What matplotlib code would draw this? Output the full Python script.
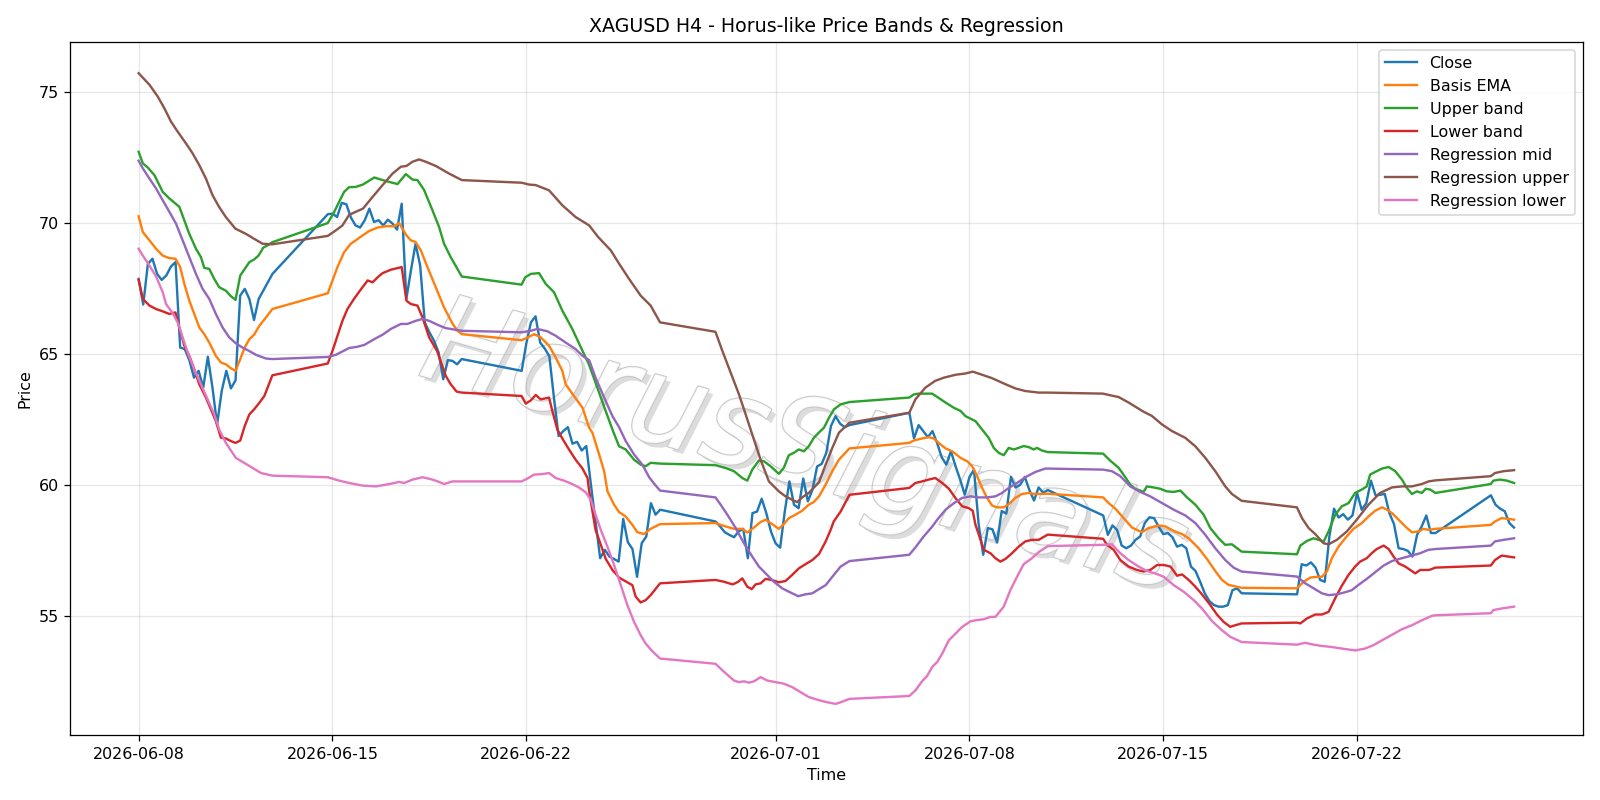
import matplotlib
matplotlib.use("Agg")
import matplotlib.pyplot as plt
import matplotlib.patheffects as pe
import numpy as np
import pandas as pd

start = pd.Timestamp("2026-06-08 00:00")

# trading sessions (H4 bars), weekends are missing
sessions = [
    ("2026-06-08 00:00", "2026-06-12 20:00"),
    ("2026-06-14 20:00", "2026-06-19 16:00"),
    ("2026-06-21 20:00", "2026-06-26 20:00"),
    ("2026-06-28 20:00", "2026-07-03 16:00"),
    ("2026-07-05 20:00", "2026-07-10 20:00"),
    ("2026-07-12 20:00", "2026-07-17 20:00"),
    ("2026-07-19 20:00", "2026-07-24 20:00"),
    ("2026-07-26 20:00", "2026-07-27 16:00"),
]

close_w0 = [67.86, 66.88, 68.43, 68.63, 68.05, 67.82, 67.99, 68.33, 68.5, 65.24,
            65.18, 64.75, 64.09, 64.35, 63.71, 64.89, 63.71, 62.3, 63.58, 64.35,
            63.68, 63.99, 67.22, 67.48, 67.09, 66.29, 67.09, 67.41, 67.73, 68.05]
close_w1 = [70.33, 70.35, 70.22, 70.76, 70.71, 70.2, 69.9, 69.82, 70.1, 70.54,
            70.03, 70.1, 69.9, 70.12, 69.97, 69.74, 70.73, 67.09, 68.18, 69.2,
            68.37, 66.2, 65.82, 65.5, 65.05, 64.03, 64.76, 64.73, 64.6, 64.8]
close_w2 = [64.35, 65.4, 66.2, 66.43, 65.43, 65.2, 64.9, 63.3, 61.86, 62.05,
            62.2, 61.57, 61.64, 61.31, 61.48, 60.0, 58.6, 57.2, 57.52, 57.26,
            57.17, 57.07, 58.7, 57.81, 57.55, 56.49, 57.77, 58.03, 59.3, 58.86, 59.05]
close_w3 = [58.6, 58.41, 58.19, 58.09, 58.0, 58.22, 58.32, 57.2, 58.92, 58.98,
            59.47, 58.92, 58.22, 57.77, 57.6, 58.98, 60.13, 59.24, 59.11, 60.24,
            59.37, 59.81, 60.7, 60.8, 61.22, 62.24, 62.62, 62.33, 62.2, 62.28]
close_w4 = [62.75, 61.77, 62.28, 62.05, 61.82, 62.05, 61.6, 61.05, 60.77, 61.28,
            60.71, 60.2, 59.62, 60.29, 60.58, 58.5, 57.33, 58.35, 58.3, 57.8,
            59.0, 58.9, 60.3, 59.9, 60.0, 60.3, 59.8, 59.4, 59.9, 59.7, 59.8]
close_w5 = [58.83, 58.09, 58.45, 58.28, 57.68, 57.58, 57.68, 57.9, 58.03, 58.54,
            58.76, 58.73, 58.41, 58.12, 58.16, 58.0, 57.64, 57.71, 57.58, 56.88,
            56.71, 56.3, 55.86, 55.56, 55.41, 55.35, 55.35, 55.41, 55.98, 56.05, 55.86]
close_w6 = [55.82, 56.97, 56.92, 57.04, 56.84, 56.37, 56.3, 58.03, 59.09, 58.75,
            58.88, 58.67, 58.83, 59.69, 59.05, 59.3, 60.16, 59.6, 59.62, 59.65,
            58.92, 58.5, 57.58, 57.55, 57.48, 57.26, 58.09, 58.41, 58.83, 58.16, 58.16]
close_w7 = [59.6, 59.24, 59.09, 58.99, 58.54, 58.37]

# smoothed lines: (days since 2026-06-08, price)
basis_ema = [(0.0, 70.25), (0.15, 69.65), (0.39, 69.33), (0.63, 69.01), (0.87, 68.75), (1.11, 68.65),
    (1.33, 68.63), (1.5, 68.31), (1.65, 67.67), (1.83, 67.03), (2.01, 66.52), (2.19, 66.01),
    (2.37, 65.75), (2.55, 65.43), (2.79, 64.92), (2.97, 64.67), (3.15, 64.6), (3.33, 64.45),
    (3.5, 64.35), (3.67, 64.8), (3.83, 65.24), (4.0, 65.56), (4.17, 65.73), (4.36, 66.07),
    (4.6, 66.39), (4.83, 66.71), (6.83, 67.31), (7.0, 67.8), (7.18, 68.31), (7.42, 68.88),
    (7.66, 69.2), (7.84, 69.33), (8.09, 69.52), (8.33, 69.69), (8.63, 69.82), (8.93, 69.87),
    (9.23, 69.87), (9.41, 69.99), (9.5, 69.82), (9.67, 69.52), (9.83, 69.33), (10.0, 69.27),
    (10.19, 68.95), (10.43, 68.31), (10.73, 67.54), (11.03, 66.77), (11.33, 66.16), (11.5, 65.9),
    (11.67, 65.75), (13.83, 65.52), (14.1, 65.65), (14.28, 65.75), (14.52, 65.63), (14.82, 65.31),
    (15.06, 64.86), (15.3, 64.35), (15.42, 63.84), (15.72, 63.39), (16.03, 62.94), (16.27, 62.18),
    (16.39, 61.98), (16.63, 61.16), (16.81, 60.52), (16.93, 59.75), (17.17, 59.24), (17.35, 58.96),
    (17.59, 58.79), (17.83, 58.47), (18.01, 58.19), (18.25, 58.12), (18.49, 58.32), (18.83, 58.5),
    (20.83, 58.54), (21.2, 58.41), (21.5, 58.32), (21.8, 58.32), (21.98, 58.18), (22.22, 58.37),
    (22.46, 58.58), (22.64, 58.67), (22.88, 58.5), (23.12, 58.32), (23.3, 58.5), (23.48, 58.73),
    (23.72, 58.86), (23.96, 59.01), (24.2, 59.24), (24.38, 59.34), (24.57, 59.56), (24.81, 60.01),
    (25.05, 60.52), (25.29, 60.96), (25.67, 61.39), (27.83, 61.6), (27.99, 61.69), (28.29, 61.77),
    (28.53, 61.82), (28.71, 61.77), (28.89, 61.6), (29.14, 61.39), (29.38, 61.28), (29.68, 61.03),
    (29.92, 60.9), (30.1, 60.71), (30.28, 60.33), (30.46, 59.88), (30.64, 59.5), (30.82, 59.21),
    (31.0, 59.14), (31.24, 59.14), (31.42, 59.26), (31.66, 59.5), (31.9, 59.65), (32.14, 59.69),
    (32.38, 59.65), (32.83, 59.66), (34.83, 59.52), (35.03, 59.3), (35.27, 59.09), (35.57, 58.73),
    (35.87, 58.37), (36.23, 58.19), (36.47, 58.35), (36.83, 58.45), (37.08, 58.41), (37.38, 58.24),
    (37.68, 58.12), (37.92, 57.96), (38.28, 57.58), (38.58, 57.17), (38.88, 56.71), (39.12, 56.37),
    (39.36, 56.18), (39.83, 56.07), (41.83, 56.05), (42.07, 56.3), (42.31, 56.46), (42.55, 56.49),
    (42.73, 56.49), (42.91, 56.69), (43.09, 57.2), (43.33, 57.64), (43.57, 57.96), (43.87, 58.32),
    (44.17, 58.54), (44.41, 58.79), (44.65, 59.01), (44.9, 59.14), (45.08, 59.05), (45.26, 58.92),
    (45.5, 58.67), (45.74, 58.41), (45.98, 58.19), (46.22, 58.22), (46.4, 58.32), (46.58, 58.28),
    (46.83, 58.32), (48.83, 58.47), (48.98, 58.6), (49.22, 58.73), (49.47, 58.7), (49.67, 58.67)]

upper_band = [(0.0, 72.71), (0.15, 72.27), (0.33, 72.11), (0.57, 71.82), (0.87, 71.18), (1.11, 70.93),
    (1.47, 70.61), (1.65, 70.1), (1.83, 69.58), (2.07, 69.01), (2.25, 68.69), (2.37, 68.28),
    (2.55, 68.24), (2.73, 67.86), (2.91, 67.54), (3.15, 67.41), (3.33, 67.2), (3.5, 67.06),
    (3.67, 67.99), (3.83, 68.24), (4.0, 68.5), (4.17, 68.6), (4.33, 68.75), (4.5, 69.05),
    (4.67, 69.15), (4.83, 69.26), (6.83, 69.99), (7.06, 70.41), (7.24, 70.8), (7.42, 71.18),
    (7.6, 71.36), (7.84, 71.37), (8.1, 71.46), (8.51, 71.73), (8.75, 71.65), (9.05, 71.56),
    (9.35, 71.48), (9.65, 71.86), (9.89, 71.65), (10.07, 71.63), (10.31, 71.25), (10.61, 70.48),
    (10.85, 69.84), (11.03, 69.2), (11.27, 68.69), (11.67, 67.95), (13.83, 67.64), (13.96, 67.92),
    (14.16, 68.05), (14.46, 68.08), (14.7, 67.67), (15.0, 67.35), (15.3, 66.65), (15.66, 65.95),
    (16.03, 65.11), (16.26, 64.6), (16.5, 63.9), (16.8, 63.01), (17.11, 62.11), (17.35, 61.47),
    (17.59, 61.35), (17.89, 60.96), (18.13, 60.77), (18.31, 60.71), (18.49, 60.84), (18.83, 60.81),
    (20.83, 60.75), (21.2, 60.64), (21.5, 60.52), (21.8, 60.26), (21.98, 60.16), (22.16, 60.58),
    (22.4, 60.93), (22.58, 60.9), (22.82, 60.71), (23.12, 60.42), (23.3, 60.65), (23.48, 61.13),
    (23.66, 61.22), (23.84, 61.35), (24.02, 61.28), (24.2, 61.47), (24.38, 61.79), (24.57, 62.0),
    (24.75, 62.18), (24.93, 62.56), (25.11, 62.88), (25.35, 63.07), (25.67, 63.16), (27.83, 63.33),
    (27.99, 63.45), (28.17, 63.48), (28.66, 63.48), (28.87, 63.33), (29.14, 63.14), (29.44, 62.94),
    (29.68, 62.82), (29.86, 62.62), (30.22, 62.43), (30.46, 62.11), (30.7, 61.79), (30.88, 61.41),
    (31.06, 61.22), (31.24, 61.13), (31.42, 61.41), (31.6, 61.35), (31.78, 61.41), (31.96, 61.48),
    (32.14, 61.44), (32.32, 61.35), (32.44, 61.41), (32.62, 61.31), (32.83, 61.25), (34.83, 61.19),
    (35.09, 60.92), (35.39, 60.65), (35.63, 60.29), (35.81, 60.0), (35.99, 59.85), (36.29, 59.73),
    (36.41, 59.94), (36.65, 59.9), (36.89, 59.85), (37.13, 59.75), (37.38, 59.73), (37.62, 59.78),
    (37.86, 59.52), (38.16, 59.24), (38.46, 58.86), (38.7, 58.35), (39.0, 57.96), (39.24, 57.71),
    (39.48, 57.73), (39.83, 57.45), (41.83, 57.35), (41.95, 57.68), (42.19, 57.86), (42.43, 57.96),
    (42.61, 57.9), (42.79, 57.83), (42.97, 58.22), (43.21, 58.86), (43.45, 59.18), (43.69, 59.3),
    (43.93, 59.69), (44.17, 59.82), (44.35, 59.94), (44.47, 60.39), (44.65, 60.49), (44.9, 60.62),
    (45.14, 60.68), (45.38, 60.52), (45.62, 60.2), (45.8, 59.88), (45.98, 59.65), (46.16, 59.75),
    (46.34, 59.69), (46.48, 59.85), (46.64, 59.82), (46.83, 59.69), (48.83, 60.03), (48.92, 60.16),
    (49.16, 60.2), (49.41, 60.16), (49.67, 60.07)]

lower_band = [(0.0, 67.82), (0.15, 67.1), (0.39, 66.84), (0.63, 66.71), (0.87, 66.62), (1.11, 66.52),
    (1.33, 66.58), (1.47, 66.01), (1.65, 65.31), (1.83, 64.92), (2.01, 64.41), (2.19, 63.84),
    (2.43, 63.33), (2.61, 62.88), (2.79, 62.43), (2.97, 61.8), (3.15, 61.77), (3.33, 61.67),
    (3.5, 61.6), (3.67, 61.69), (3.83, 62.24), (4.0, 62.69), (4.17, 62.88), (4.36, 63.13),
    (4.54, 63.39), (4.83, 64.18), (6.83, 64.63), (7.0, 65.11), (7.18, 65.69), (7.36, 66.26),
    (7.54, 66.71), (7.78, 67.1), (8.02, 67.45), (8.27, 67.8), (8.45, 67.73), (8.63, 67.92),
    (8.81, 68.08), (9.11, 68.21), (9.5, 68.31), (9.67, 67.03), (9.83, 66.9), (10.07, 66.84),
    (10.25, 66.39), (10.49, 65.63), (10.78, 65.1), (11.09, 64.16), (11.27, 63.84), (11.48, 63.56),
    (11.67, 63.52), (13.83, 63.39), (13.98, 63.1), (14.16, 63.22), (14.34, 63.43), (14.52, 63.26),
    (14.82, 63.33), (14.94, 62.82), (15.12, 62.11), (15.3, 61.77), (15.54, 61.35), (15.78, 60.96),
    (16.03, 60.62), (16.21, 60.26), (16.27, 59.75), (16.33, 59.37), (16.5, 58.28), (16.69, 57.71),
    (16.87, 57.17), (17.11, 56.75), (17.35, 56.46), (17.65, 56.28), (17.83, 56.17), (17.95, 55.73),
    (18.13, 55.51), (18.31, 55.6), (18.49, 55.79), (18.83, 56.24), (20.83, 56.37), (21.14, 56.3),
    (21.32, 56.24), (21.46, 56.2), (21.65, 56.3), (21.8, 56.43), (21.98, 56.11), (22.14, 56.02),
    (22.28, 56.2), (22.46, 56.24), (22.64, 56.41), (22.86, 56.37), (23.12, 56.28), (23.36, 56.33),
    (23.6, 56.56), (23.84, 56.81), (24.08, 56.97), (24.33, 57.13), (24.57, 57.36), (24.81, 57.84),
    (24.99, 58.28), (25.1, 58.6), (25.35, 58.98), (25.67, 59.62), (27.83, 59.88), (28.05, 60.07),
    (28.29, 60.13), (28.53, 60.2), (28.77, 60.26), (29.02, 60.07), (29.26, 59.85), (29.5, 59.49),
    (29.74, 59.18), (29.98, 59.11), (30.12, 59.01), (30.22, 58.47), (30.34, 58.1), (30.52, 57.52),
    (30.76, 57.39), (30.94, 57.2), (31.12, 57.07), (31.3, 57.17), (31.54, 57.39), (31.78, 57.64),
    (32.02, 57.84), (32.26, 57.9), (32.5, 57.9), (32.83, 58.1), (34.83, 57.94), (34.97, 57.71),
    (35.21, 57.52), (35.45, 57.13), (35.75, 56.88), (36.05, 56.75), (36.29, 56.69), (36.53, 56.75),
    (36.78, 56.94), (37.02, 56.94), (37.26, 56.88), (37.5, 56.53), (37.68, 56.58), (37.92, 56.37),
    (38.16, 56.11), (38.4, 55.82), (38.7, 55.41), (38.94, 55.05), (39.18, 54.77), (39.42, 54.58),
    (39.6, 54.64), (39.83, 54.71), (41.83, 54.74), (41.95, 54.71), (42.19, 54.9), (42.49, 55.05),
    (42.73, 55.05), (42.97, 55.15), (43.21, 55.67), (43.45, 56.15), (43.69, 56.56), (43.93, 56.88),
    (44.11, 57.07), (44.35, 57.2), (44.53, 57.39), (44.71, 57.55), (44.96, 57.68), (45.14, 57.55),
    (45.32, 57.26), (45.5, 57.0), (45.74, 56.88), (45.92, 56.75), (46.1, 56.62), (46.28, 56.75),
    (46.6, 56.75), (46.83, 56.84), (48.83, 56.92), (48.98, 57.13), (49.22, 57.3), (49.47, 57.26),
    (49.67, 57.23)]

reg_mid = [(0.0, 72.37), (0.15, 72.08), (0.39, 71.69), (0.63, 71.31), (0.87, 70.86), (1.11, 70.42),
    (1.35, 69.97), (1.59, 69.33), (1.83, 68.69), (2.07, 68.05), (2.31, 67.48), (2.55, 67.1),
    (2.79, 66.52), (3.03, 66.01), (3.27, 65.63), (3.51, 65.4), (3.75, 65.24), (3.99, 65.11),
    (4.24, 64.96), (4.6, 64.82), (4.83, 64.8), (6.83, 64.88), (7.12, 64.96), (7.36, 65.09),
    (7.6, 65.22), (7.9, 65.27), (8.15, 65.34), (8.51, 65.56), (8.81, 65.73), (9.11, 65.95),
    (9.47, 66.14), (9.71, 66.14), (10.01, 66.26), (10.25, 66.33), (10.49, 66.26), (10.79, 66.11),
    (11.09, 65.98), (11.67, 65.88), (13.83, 65.82), (14.16, 65.88), (14.4, 65.95), (14.76, 65.86),
    (15.06, 65.69), (15.42, 65.43), (15.78, 65.18), (16.03, 64.92), (16.27, 64.76), (16.5, 64.09),
    (16.81, 63.33), (17.11, 62.62), (17.35, 62.2), (17.59, 61.67), (17.89, 61.16), (18.19, 60.77),
    (18.43, 60.3), (18.61, 60.05), (18.83, 59.78), (20.83, 59.52), (21.02, 59.24), (21.26, 58.86),
    (21.56, 58.35), (21.86, 57.77), (22.16, 57.26), (22.4, 56.88), (22.64, 56.62), (22.94, 56.3),
    (23.24, 56.05), (23.54, 55.89), (23.82, 55.75), (24.08, 55.82), (24.33, 55.86), (24.57, 56.02),
    (24.81, 56.17), (25.05, 56.49), (25.35, 56.88), (25.67, 57.09), (27.83, 57.33), (28.05, 57.61),
    (28.35, 58.03), (28.66, 58.41), (28.84, 58.67), (29.14, 59.05), (29.44, 59.3), (29.74, 59.5),
    (30.04, 59.56), (30.34, 59.52), (30.64, 59.52), (30.94, 59.56), (31.18, 59.69), (31.42, 59.88),
    (31.72, 60.07), (32.02, 60.29), (32.38, 60.49), (32.74, 60.62), (32.83, 60.62), (34.83, 60.58),
    (35.15, 60.52), (35.45, 60.33), (35.81, 59.94), (36.17, 59.73), (36.53, 59.56), (36.96, 59.3),
    (37.38, 59.05), (37.8, 58.83), (38.16, 58.54), (38.52, 58.09), (38.88, 57.58), (39.24, 57.13),
    (39.54, 56.84), (39.83, 56.69), (41.83, 56.5), (42.13, 56.24), (42.43, 56.05), (42.73, 55.86),
    (42.97, 55.79), (43.27, 55.82), (43.57, 55.9), (43.81, 55.98), (44.05, 56.18), (44.35, 56.41),
    (44.65, 56.66), (44.96, 56.92), (45.26, 57.09), (45.62, 57.2), (45.98, 57.3), (46.28, 57.39),
    (46.58, 57.52), (46.83, 57.55), (48.83, 57.68), (48.98, 57.84), (49.29, 57.9), (49.67, 57.96)]

reg_upper = [(0.0, 75.71), (0.39, 75.27), (0.69, 74.82), (0.93, 74.37), (1.17, 73.86), (1.41, 73.48),
    (1.71, 73.03), (1.95, 72.65), (2.19, 72.2), (2.43, 71.69), (2.67, 71.05), (2.91, 70.6),
    (3.15, 70.22), (3.49, 69.78), (3.87, 69.58), (4.17, 69.39), (4.48, 69.2), (4.83, 69.18),
    (6.83, 69.5), (7.12, 69.71), (7.36, 69.9), (7.6, 70.3), (7.84, 70.42), (8.1, 70.54),
    (8.45, 70.99), (8.81, 71.44), (9.17, 71.88), (9.47, 72.14), (9.67, 72.17), (9.89, 72.33),
    (10.13, 72.42), (10.37, 72.33), (10.73, 72.17), (11.21, 71.88), (11.67, 71.63), (13.83, 71.53),
    (14.1, 71.46), (14.34, 71.44), (14.82, 71.24), (15.3, 70.67), (15.78, 70.22), (16.27, 69.9),
    (16.6, 69.45), (17.05, 68.95), (17.35, 68.44), (17.71, 67.86), (18.13, 67.22), (18.49, 66.84),
    (18.83, 66.2), (20.83, 65.84), (21.08, 65.11), (21.38, 64.28), (21.68, 63.45), (21.92, 62.69),
    (22.16, 61.92), (22.46, 60.96), (22.76, 60.13), (23.12, 59.75), (23.36, 59.56), (23.6, 59.43),
    (23.78, 59.34), (23.96, 59.52), (24.2, 59.69), (24.57, 60.1), (24.81, 60.77), (25.05, 61.41),
    (25.29, 61.99), (25.67, 62.37), (27.83, 62.75), (28.05, 63.26), (28.41, 63.71), (28.77, 63.97),
    (29.08, 64.09), (29.5, 64.2), (29.86, 64.25), (30.12, 64.32), (30.46, 64.2), (30.82, 64.07),
    (31.3, 63.84), (31.66, 63.68), (32.02, 63.58), (32.5, 63.52), (32.83, 63.52), (34.83, 63.48),
    (35.03, 63.43), (35.39, 63.35), (35.75, 63.14), (36.29, 62.79), (36.59, 62.63), (36.96, 62.3),
    (37.32, 62.05), (37.8, 61.79), (38.16, 61.47), (38.52, 61.03), (38.88, 60.52), (39.24, 59.94),
    (39.48, 59.65), (39.83, 59.39), (41.83, 59.14), (42.01, 58.73), (42.25, 58.35), (42.49, 58.12),
    (42.79, 57.77), (42.97, 57.73), (43.27, 57.9), (43.63, 58.22), (43.99, 58.67), (44.41, 59.24),
    (44.83, 59.69), (45.26, 59.9), (45.62, 59.94), (45.98, 59.94), (46.34, 60.03), (46.58, 60.13),
    (46.83, 60.17), (48.83, 60.33), (48.98, 60.45), (49.29, 60.52), (49.67, 60.56)]

reg_lower = [(0.0, 69.01), (0.15, 68.75), (0.39, 68.37), (0.63, 67.95), (0.87, 67.35), (0.99, 66.9),
    (1.23, 66.55), (1.41, 66.2), (1.59, 65.63), (1.77, 65.05), (2.01, 64.41), (2.25, 63.84),
    (2.49, 63.26), (2.73, 62.69), (2.91, 62.11), (3.15, 61.6), (3.51, 61.03), (3.81, 60.84),
    (4.11, 60.65), (4.42, 60.45), (4.83, 60.35), (6.83, 60.29), (7.24, 60.16), (7.6, 60.07),
    (8.09, 59.97), (8.57, 59.94), (9.05, 60.03), (9.41, 60.11), (9.59, 60.07), (9.89, 60.2),
    (10.25, 60.29), (10.61, 60.2), (10.85, 60.11), (11.03, 60.03), (11.33, 60.13), (11.67, 60.13),
    (13.83, 60.13), (14.04, 60.24), (14.28, 60.39), (14.58, 60.41), (14.82, 60.45), (15.06, 60.26),
    (15.36, 60.16), (15.66, 60.03), (15.9, 59.9), (16.14, 59.72), (16.33, 59.43), (16.5, 58.86),
    (16.69, 58.28), (16.93, 57.64), (17.17, 56.94), (17.41, 56.17), (17.65, 55.41), (17.89, 54.77),
    (18.13, 54.26), (18.31, 53.94), (18.55, 53.65), (18.83, 53.37), (20.83, 53.17), (21.02, 52.98),
    (21.26, 52.75), (21.5, 52.53), (21.68, 52.47), (21.86, 52.5), (22.04, 52.45), (22.22, 52.5),
    (22.46, 52.66), (22.7, 52.53), (23.0, 52.47), (23.3, 52.41), (23.6, 52.28), (23.9, 52.09),
    (24.2, 51.9), (24.57, 51.78), (24.87, 51.7), (25.17, 51.64), (25.35, 51.7), (25.67, 51.83),
    (27.83, 51.94), (28.05, 52.15), (28.29, 52.5), (28.47, 52.7), (28.66, 53.05), (28.84, 53.24),
    (29.02, 53.56), (29.26, 54.07), (29.5, 54.32), (29.74, 54.58), (30.04, 54.79), (30.28, 54.84),
    (30.52, 54.87), (30.76, 54.96), (30.94, 54.96), (31.24, 55.35), (31.48, 55.98), (31.72, 56.49),
    (31.96, 56.97), (32.26, 57.2), (32.5, 57.43), (32.83, 57.66), (34.83, 57.71), (35.15, 57.73),
    (35.45, 57.39), (35.75, 57.13), (36.11, 56.88), (36.41, 56.71), (36.71, 56.62), (37.02, 56.49),
    (37.38, 56.17), (37.74, 55.92), (38.1, 55.6), (38.4, 55.28), (38.76, 54.8), (39.12, 54.45),
    (39.42, 54.2), (39.83, 54.0), (41.83, 53.9), (42.13, 53.97), (42.43, 53.9), (42.73, 53.85),
    (43.09, 53.81), (43.45, 53.75), (43.93, 53.68), (44.29, 53.75), (44.59, 53.88), (44.96, 54.1),
    (45.26, 54.28), (45.62, 54.49), (45.98, 54.64), (46.34, 54.83), (46.7, 55.0), (46.83, 55.02),
    (48.83, 55.1), (48.92, 55.22), (49.22, 55.28), (49.67, 55.35)]


def to_series(points):
    d, v = zip(*points)
    return start + pd.to_timedelta(np.array(d), unit="D"), np.array(v)


close_idx = pd.DatetimeIndex(np.concatenate(
    [pd.date_range(a, b, freq="4h").values for a, b in sessions]))
close = close_w0 + close_w1 + close_w2 + close_w3 + close_w4 + close_w5 + close_w6 + close_w7

fig, ax = plt.subplots(figsize=(14, 7), dpi=1600 / 14)

ax.plot(close_idx, close, label="Close", color="C0")
for pts, name, col in [(basis_ema, "Basis EMA", "C1"), (upper_band, "Upper band", "C2"),
                       (lower_band, "Lower band", "C3"), (reg_mid, "Regression mid", "C4"),
                       (reg_upper, "Regression upper", "C5"), (reg_lower, "Regression lower", "C6")]:
    t, v = to_series(pts)
    ax.plot(t, v, label=name, color=col)

# watermark
ax.text(0.485, 0.41, "HorusSignals", transform=ax.transAxes, fontsize=76,
        fontstyle="italic", color="white", alpha=0.9, rotation=-16, ha="center", va="center",
        zorder=0,
        path_effects=[pe.withSimplePatchShadow(offset=(3, -3), shadow_rgbFace="0.7", alpha=0.45),
                      pe.Stroke(linewidth=1.5, foreground="0.78"), pe.Normal()])

ax.set_title("XAGUSD H4 - Horus-like Price Bands & Regression")
ax.set_xlabel("Time")
ax.set_ylabel("Price")
ax.grid(True, alpha=0.3)
ax.legend(loc="upper right")
fig.tight_layout()
fig.savefig("out.png", dpi=1600 / 14)
